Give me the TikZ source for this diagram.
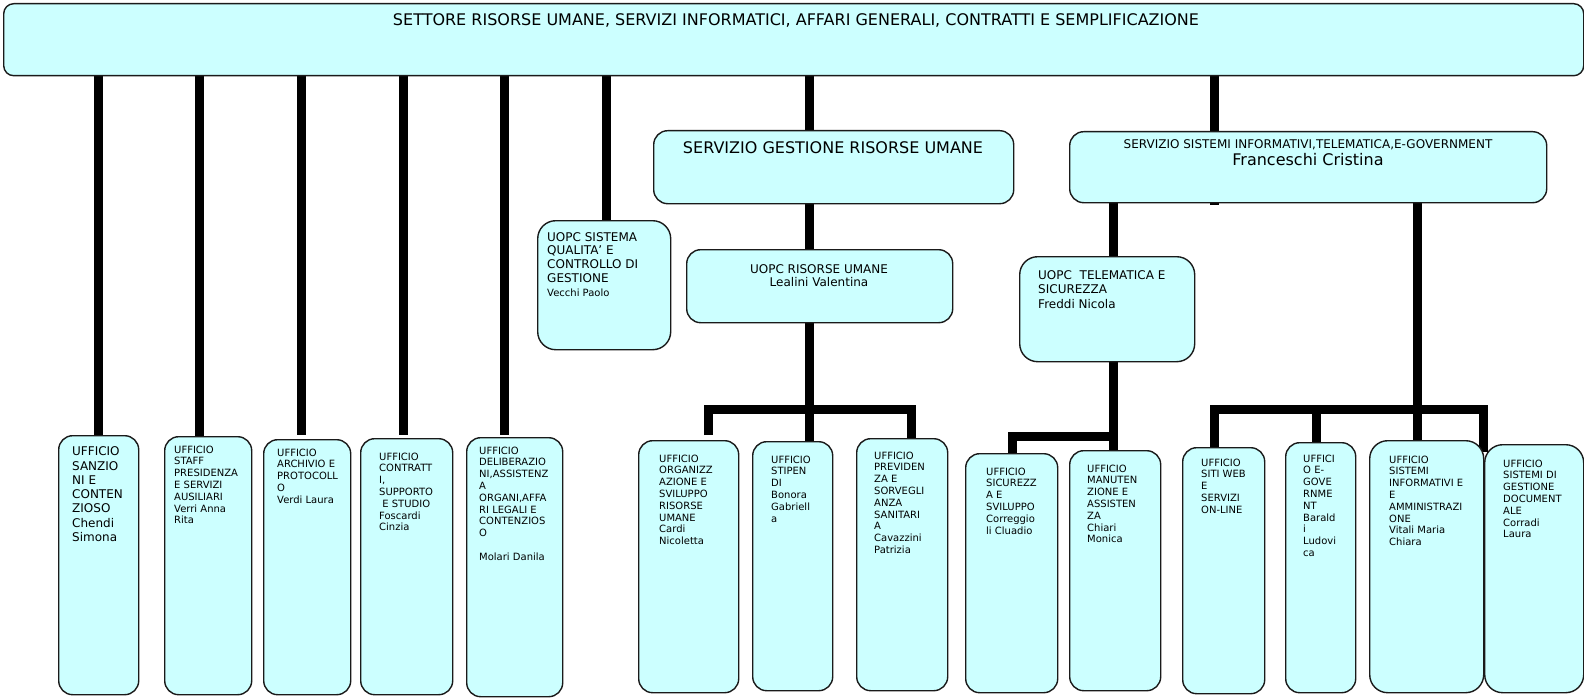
\documentclass[tikz,border=0pt]{standalone}
\usepackage{fontspec}
\setmainfont{DejaVu Sans}
\usetikzlibrary{backgrounds}
\definecolor{boxcyan}{HTML}{CCFFFF}
\definecolor{edgecol}{HTML}{1A1A1A}
\tikzset{
  box/.style={draw=edgecol, line width=1.4pt, fill=boxcyan, rounded corners=14pt, inner sep=0pt, anchor=north west},
  conn/.style={line width=9pt, black, line join=miter},
  tten/.style={font=\fontsize{10}{11.8}\selectfont, align=left, inner sep=0pt, anchor=north west},
  ttwelve/.style={font=\fontsize{12}{14.2}\selectfont, align=left, inner sep=0pt, anchor=north west},
}
\newcommand{\mybox}[6][]{\node[box,#1, minimum width={(#5-#3)*1pt}, minimum height={(#6-#4)*1pt}] (#2) at (#3,#4) {};}
\begin{document}
\begin{tikzpicture}[x=1pt,y=-1pt]
\useasboundingbox (0,0) rectangle (1584,698);
% boxes
\mybox[rounded corners=10pt]{top}{3}{3}{1583}{75}
\mybox{sgru}{653}{130}{1013}{203}
\mybox{ssi}{1069}{131}{1546}{202}
\mybox[rounded corners=18pt]{qual}{537}{220}{670}{349}
\mybox{uopcru}{686}{249}{952}{322}
\mybox[rounded corners=18pt]{tele}{1019}{256}{1194}{361}
\mybox{sanz}{58}{435}{138}{694}
\mybox{staff}{164}{436}{251}{694}
\mybox{arch}{263}{439}{350}{694}
\mybox{contr}{360}{438}{452}{694}
\mybox{delib}{466}{437}{562}{696}
\mybox{organ}{638}{440}{738}{692}
\mybox{stip}{752}{441}{832}{690}
\mybox{prev}{856}{438}{947}{690}
\mybox{sicur}{965}{453}{1057}{692}
\mybox{manut}{1069}{450}{1160}{690}
\mybox{siti}{1182}{447}{1264}{693}
\mybox{egov}{1285}{442}{1355}{692}
\mybox[rounded corners=18pt]{sinfo}{1369}{440}{1483}{692}
\mybox[rounded corners=18pt]{docu}{1484}{444}{1583}{692}
% connectors
\begin{scope}[on background layer]
\draw[conn] (top.south -| 98,0) -- (sanz.north -| 98,0);
\draw[conn] (top.south -| 199,0) -- (staff.north -| 199,0);
\draw[conn] (top.south -| 301,0) -- (301,435);
\draw[conn] (top.south -| 403,0) -- (403,435);
\draw[conn] (top.south -| 504,0) -- (504,435);
\draw[conn] (top.south -| 606,0) -- (qual.north -| 606,0);
\draw[conn] (top.south -| 809,0) -- (sgru.north -| 809,0);
\draw[conn] (top.south -| 1214,0) -- (1214,205);
\draw[conn] (sgru.south -| 809,0) -- (uopcru.north -| 809,0);
\draw[conn] (uopcru.south -| 809,0) -- (stip.north -| 809,0);
\draw[conn] (708,435) -- (708,409.5) -- (911,409.5) -- (prev.north -| 911,0);
\draw[conn] (ssi.south -| 1113,0) -- (tele.north -| 1113,0);
\draw[conn] (tele.south -| 1113,0) -- (manut.north -| 1113,0);
\draw[conn] (sicur.north -| 1012,0) -- (1012,436) -- (1113,436);
\draw[conn] (ssi.south -| 1417,0) -- (sinfo.north -| 1417,0);
\draw[conn] (siti.north -| 1214,0) -- (1214,409) -- (1483,409) -- (1483,452);
\draw[conn] (1316,409) -- (egov.north -| 1316,0);
\end{scope}
% texts
\node[font=\fontsize{16}{19}\selectfont, anchor=north, inner sep=0pt] (titlet) at (796,13)
  {SETTORE RISORSE UMANE, SERVIZI INFORMATICI, AFFARI GENERALI, CONTRATTI E SEMPLIFICAZIONE};
\node[font=\fontsize{16}{19}\selectfont, anchor=north, inner sep=0pt] (sgrut) at (833,141)
  {SERVIZIO GESTIONE RISORSE UMANE};
\node[font=\fontsize{12}{14}\selectfont, align=center, anchor=north, inner sep=0pt] (ssit) at (1308,139)
  {SERVIZIO SISTEMI INFORMATIVI,TELEMATICA,E-GOVERNMENT\\[3.5pt]{\fontsize{16}{19}\selectfont Franceschi Cristina}};
\node[font=\fontsize{12}{13.5}\selectfont, align=center, anchor=north, inner sep=0pt] (uopcrut) at (819,264)
  {UOPC RISORSE UMANE\\Lealini Valentina};
\node[font=\fontsize{12}{13.7}\selectfont, align=left, anchor=north west, inner sep=0pt] (qualt) at (547,232)
  {UOPC SISTEMA\\QUALITA’ E\\CONTROLLO DI\\GESTIONE\\[1pt]{\fontsize{10}{12}\selectfont Vecchi Paolo}};
\node[ttwelve] (telet) at (1038,270.6) {UOPC\ \ TELEMATICA E\\SICUREZZA\\Freddi Nicola};
\node[font=\fontsize{12}{14.3}\selectfont, align=left, anchor=north west, inner sep=0pt] (sanzt) at (72,446.6)
  {UFFICIO\\SANZIO\\NI E\\CONTEN\\ZIOSO\\Chendi\\Simona};
\node[tten] (stafft) at (174,445.4) {UFFICIO\\STAFF\\PRESIDENZA\\E SERVIZI\\AUSILIARI\\Verri Anna\\Rita};
\node[tten] (archt) at (277,448.4) {UFFICIO\\ARCHIVIO E\\PROTOCOLL\\O\\Verdi Laura};
\node[tten] (contrt) at (379,452.4) {UFFICIO\\CONTRATT\\I,\\SUPPORTO\\\hspace*{3.2pt}E STUDIO\\Foscardi\\Cinzia};
\node[tten] (delibt) at (479,446.4) {UFFICIO\\DELIBERAZIO\\NI,ASSISTENZ\\A\\ORGANI,AFFA\\RI LEGALI E\\CONTENZIOS\\O\\[11.8pt]Molari Danila};
\node[tten] (organt) at (659,454.4) {UFFICIO\\ORGANIZZ\\AZIONE E\\SVILUPPO\\RISORSE\\UMANE\\Cardi\\Nicoletta};
\node[tten] (stipt) at (771,455.4) {UFFICIO\\STIPEN\\DI\\Bonora\\Gabriell\\a};
\node[tten] (prevt) at (874,451.4) {UFFICIO\\PREVIDEN\\ZA E\\SORVEGLI\\ANZA\\SANITARI\\A\\Cavazzini\\Patrizia};
\node[tten] (sicurt) at (986,467.4) {UFFICIO\\SICUREZZ\\A E\\SVILUPPO\\Correggio\\li Cluadio};
\node[tten] (manutt) at (1087,464.4) {UFFICIO\\MANUTEN\\ZIONE E\\ASSISTEN\\ZA\\Chiari\\Monica};
\node[tten] (sitit) at (1201,458.4) {UFFICIO\\SITI WEB\\E\\SERVIZI\\ON-LINE};
\node[tten] (egovt) at (1303,454.4) {UFFICI\\O E-\\GOVE\\RNME\\NT\\Barald\\i\\Ludovi\\ca};
\node[tten] (sinfot) at (1389,455.4) {UFFICIO\\SISTEMI\\INFORMATIVI E\\E\\AMMINISTRAZI\\ONE\\Vitali Maria\\Chiara};
\node[tten] (docut) at (1503,459.4) {UFFICIO\\SISTEMI DI\\GESTIONE\\DOCUMENT\\ALE\\Corradi\\Laura};
\end{tikzpicture}
\end{document}
